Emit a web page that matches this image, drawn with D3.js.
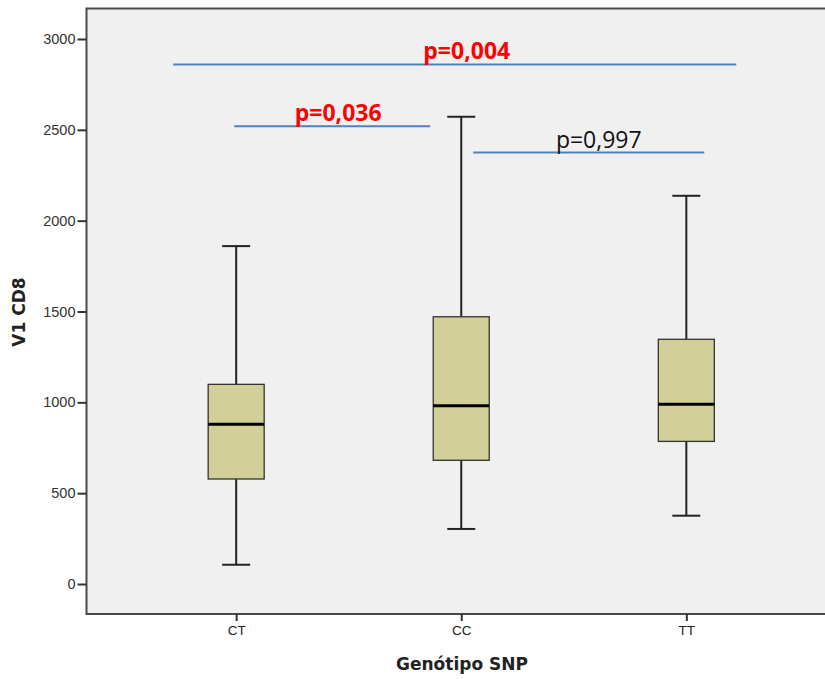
<!DOCTYPE html>
<html><head><meta charset="utf-8">
<script src="https://cdn.jsdelivr.net/npm/d3@7"></script>
<style>html,body{margin:0;padding:0;background:#fff;}svg{display:block;}</style>
</head><body>
<svg id="chart" width="825" height="679"></svg>
<script>
// ---- data ----
const categories = ["CT", "CC", "TT"];
const whiskerLow  = [106, 303, 376];
const q1          = [578, 681, 785];
const medians     = [879, 981, 989];
const q3          = [1099, 1471, 1347];
const whiskerHigh = [1860, 2572, 2137];
const yTicks = [0, 500, 1000, 1500, 2000, 2500, 3000];
const compFrom   = ["CT", "CT", "CC"];
const compTo     = ["TT", "CC", "TT"];
const compLevel  = [2860, 2520, 2375];
const compLabels = ["p=0,004", "p=0,036", "p=0,997"];
const compSig    = [true, true, false];
const xTitle = "Genótipo SNP";
const yTitle = "V1 CD8";

// ---- layout ----
const svg = d3.select("#chart");
const frame = {left: 86.5, top: 8.5, right: 836, bottom: 614};
const y = d3.scaleLinear().domain([0, 3000]).range([584, 39]);
const x = d3.scalePoint().domain(categories).range([frame.left, 836]).padding(0.665);
const boxW = 56, capW = 28;
// pixel offsets of the drawn bracket ends relative to the category centres
const bracketPad = [[-63, 50], [-2, -31], [12, 18]];
const labelShift = [12, 6, 10];

// plot background
svg.append("rect").attr("x", frame.left).attr("y", frame.top)
  .attr("width", frame.right - frame.left).attr("height", frame.bottom - frame.top)
  .attr("fill", "#f0f0f0").attr("stroke", "#4a4a4a").attr("stroke-width", 2);

// y axis
const yAxis = d3.axisLeft(y).tickValues(yTicks).tickSize(9).tickPadding(2).tickFormat(d3.format("d"));
const gy = svg.append("g").attr("transform", `translate(${frame.left},0)`).call(yAxis);
gy.select(".domain").remove();
gy.selectAll(".tick line").attr("stroke", "#333").attr("stroke-width", 2);
gy.selectAll(".tick text").attr("fill", "#333").style("font-family", "Arial, 'Liberation Sans', sans-serif").style("font-size", "14.5px");

// x axis
const xAxis = d3.axisBottom(x).tickSize(7).tickPadding(4);
const gx = svg.append("g").attr("transform", `translate(0,${frame.bottom})`).call(xAxis);
gx.select(".domain").remove();
gx.selectAll(".tick line").attr("stroke", "#333").attr("stroke-width", 2);
gx.selectAll(".tick text").attr("fill", "#222").style("font-family", "Arial, 'Liberation Sans', sans-serif").style("font-size", "13.5px");

// boxes
const data = categories.map((c, i) => ({c, lo: whiskerLow[i], q1: q1[i], med: medians[i], q3: q3[i], hi: whiskerHigh[i]}));
const g = svg.append("g").selectAll("g").data(data).join("g");
g.append("line").attr("x1", d => x(d.c)).attr("x2", d => x(d.c))
  .attr("y1", d => y(d.hi)).attr("y2", d => y(d.q3)).attr("stroke", "#222").attr("stroke-width", 2);
g.append("line").attr("x1", d => x(d.c)).attr("x2", d => x(d.c))
  .attr("y1", d => y(d.q1)).attr("y2", d => y(d.lo)).attr("stroke", "#222").attr("stroke-width", 2);
g.append("line").attr("x1", d => x(d.c) - capW/2).attr("x2", d => x(d.c) + capW/2)
  .attr("y1", d => y(d.hi)).attr("y2", d => y(d.hi)).attr("stroke", "#222").attr("stroke-width", 2);
g.append("line").attr("x1", d => x(d.c) - capW/2).attr("x2", d => x(d.c) + capW/2)
  .attr("y1", d => y(d.lo)).attr("y2", d => y(d.lo)).attr("stroke", "#222").attr("stroke-width", 2);
g.append("rect").attr("x", d => x(d.c) - boxW/2).attr("width", boxW)
  .attr("y", d => y(d.q3)).attr("height", d => y(d.q1) - y(d.q3))
  .attr("fill", "#d3cf98").attr("stroke", "#333").attr("stroke-width", 1.3);
g.append("line").attr("x1", d => x(d.c) - boxW/2).attr("x2", d => x(d.c) + boxW/2)
  .attr("y1", d => y(d.med)).attr("y2", d => y(d.med)).attr("stroke", "#000").attr("stroke-width", 3);

// significance brackets
const comps = compLabels.map((l, i) => {
  const x1 = x(compFrom[i]) + bracketPad[i][0];
  const x2 = x(compTo[i]) + bracketPad[i][1];
  return {x1, x2, level: compLevel[i], label: l, sig: compSig[i], tx: (x1 + x2) / 2 + labelShift[i]};
});
const cg = svg.append("g").selectAll("g").data(comps).join("g");
cg.append("line")
  .attr("x1", d => d.x1).attr("x2", d => d.x2)
  .attr("y1", d => y(d.level)).attr("y2", d => y(d.level))
  .attr("stroke", "#4f81bd").attr("stroke-width", 2);
cg.append("text")
  .attr("x", d => d.tx)
  .attr("y", d => y(d.level) - 5)
  .attr("text-anchor", "middle")
  .attr("fill", d => d.sig ? "#ff0000" : "#111")
  .style("font-family", "'Open Sans', Arial, sans-serif")
  .style("font-weight", d => d.sig ? "700" : "400")
  .style("font-size", "23px")
  .text(d => d.label);

// titles
svg.append("text").attr("x", 462).attr("y", 670).attr("text-anchor", "middle")
  .style("font-family", "'DejaVu Sans', Verdana, sans-serif").style("font-weight", "700").style("font-size", "17px")
  .attr("fill", "#222").text(xTitle);
svg.append("text").attr("transform", "translate(25,312) rotate(-90)").attr("text-anchor", "middle")
  .style("font-family", "'DejaVu Sans', Verdana, sans-serif").style("font-weight", "700").style("font-size", "17px")
  .attr("fill", "#222").text(yTitle);
</script>
</body></html>
